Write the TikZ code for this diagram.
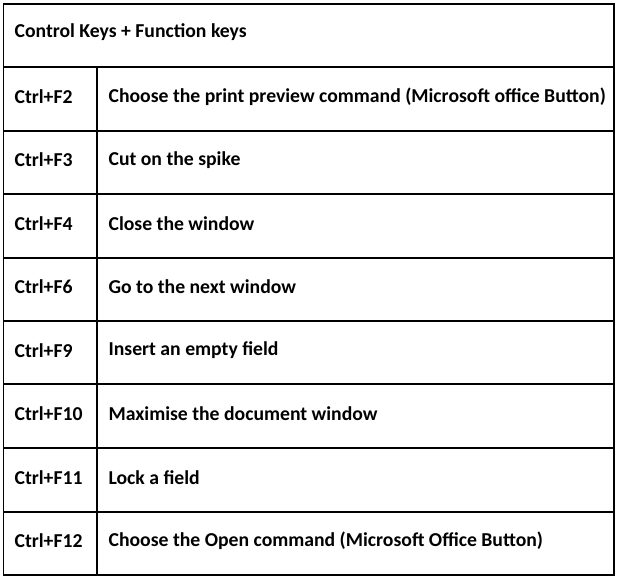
\documentclass[tikz,border=0pt]{standalone}
\usepackage{fontspec}
\setmainfont{Carlito}
\begin{document}
\begin{tikzpicture}[x=1pt,y=-1pt,line width=1.2pt,
  cell/.style={anchor=west,inner sep=0pt,font=\fontsize{19.7}{22}\selectfont\bfseries}]
\useasboundingbox (0,0) rectangle (618,580);
\draw (3.5,4) rectangle (614,575);
\foreach \y in {67,131,194,258,321,384,448,512} \draw (3.5,\y) -- (614,\y);
\draw (97,67) -- (97,575);
\node[cell] (h) at (14,32) {Control Keys + Function keys};
\foreach \i/\k/\t [count=\n from 0] in {
  F2/Ctrl+F2/Choose the print preview command (Microsoft office Button),
  F3/Ctrl+F3/Cut on the spike,
  F4/Ctrl+F4/Close the window,
  F6/Ctrl+F6/Go to the next window,
  F9/Ctrl+F9/Insert an empty field,
  F10/Ctrl+F10/Maximise the document window,
  F11/Ctrl+F11/Lock a field,
  F12/Ctrl+F12/Choose the Open command (Microsoft Office Button)} {
  \pgfmathsetmacro\yy{67+63.5*\n+29.5}
  \node[cell] (k\i) at (14,\yy) {\k};
  \node[cell] (t\i) at (108,\yy) {\t};
}
\end{tikzpicture}
\end{document}
